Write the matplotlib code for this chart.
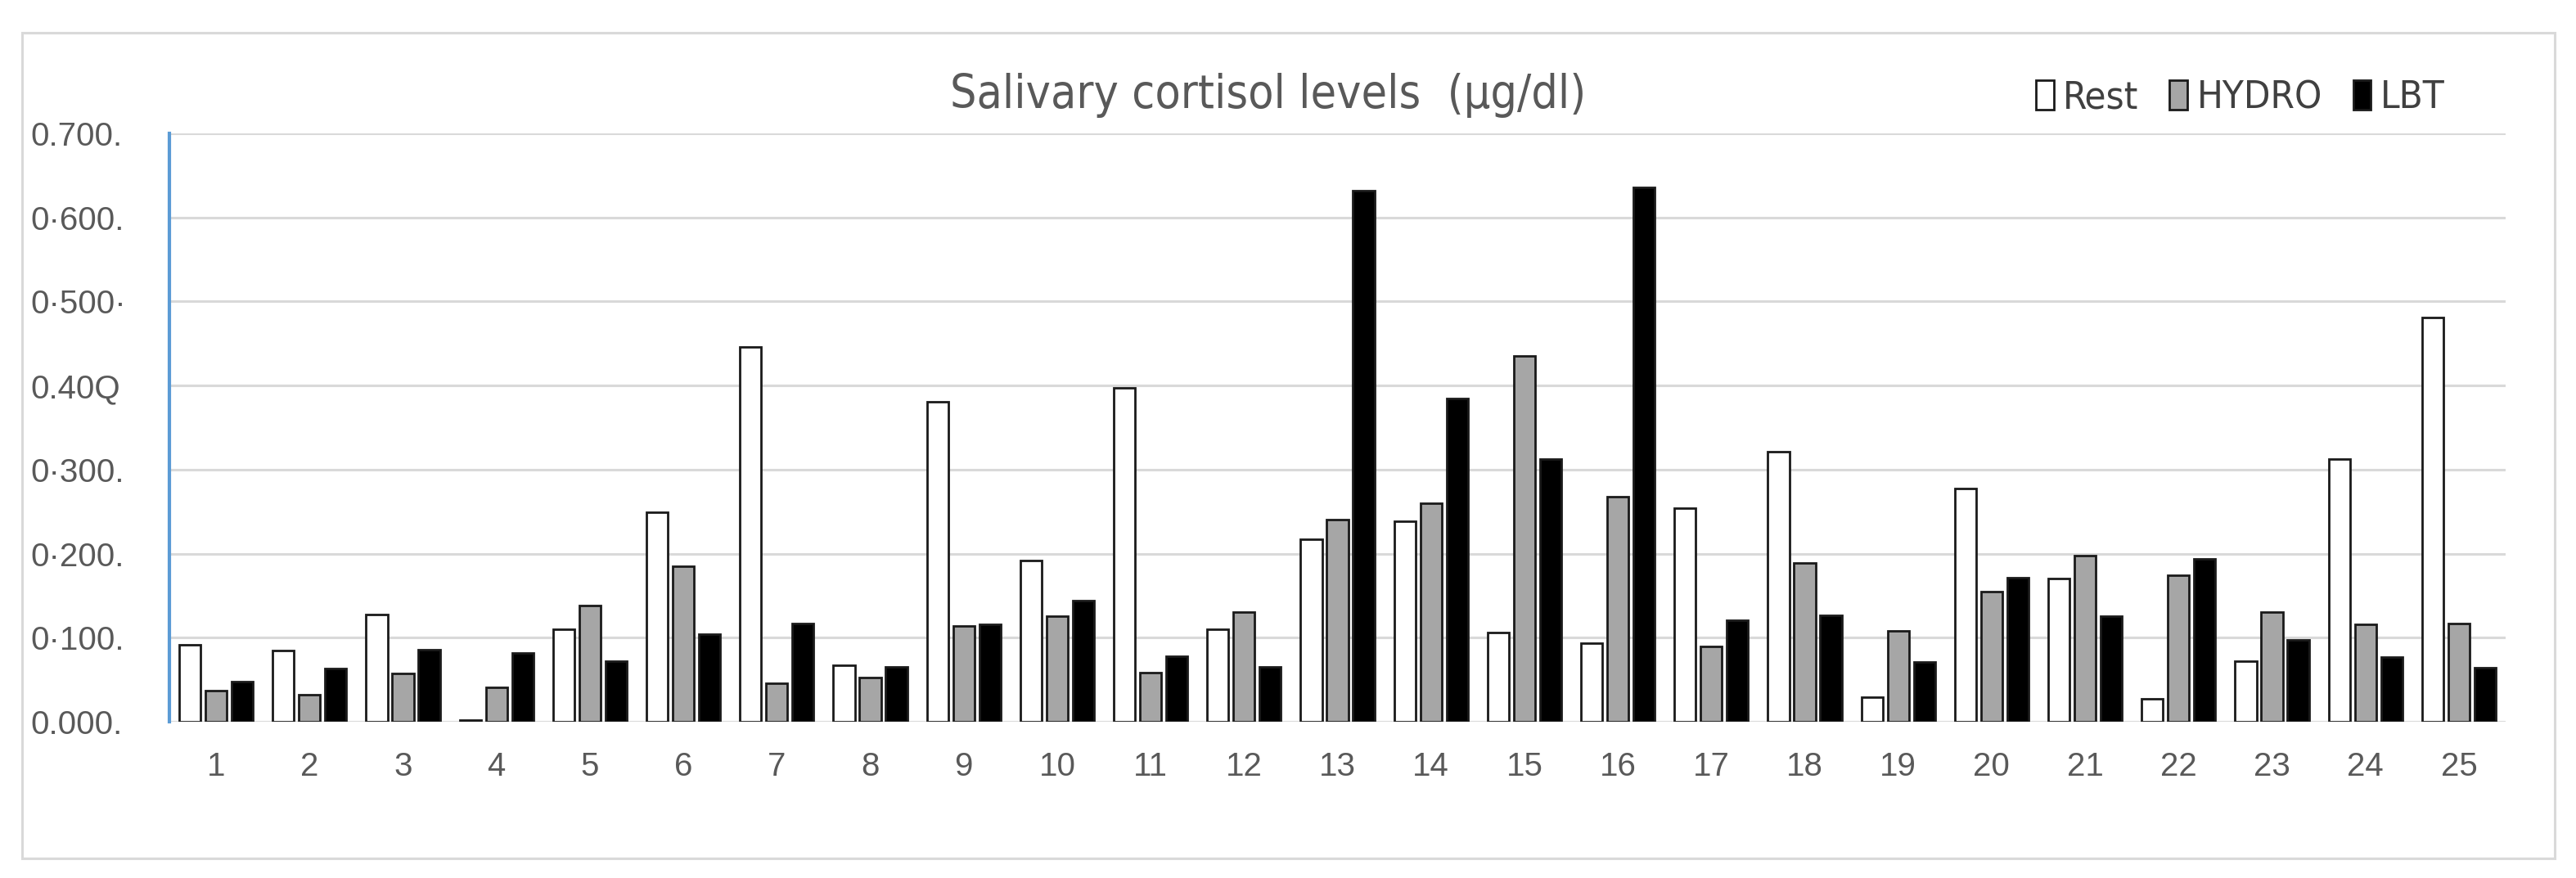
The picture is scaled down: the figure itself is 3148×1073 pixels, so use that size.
import matplotlib.pyplot as plt
import numpy as np
from matplotlib.patches import Rectangle, Patch

# salivary cortisol values (ug/dl)
subjects = [str(i) for i in range(1, 26)]
rest = [0.092, 0.085, 0.128, 0.002, 0.110, 0.249, 0.446, 0.067, 0.381, 0.192,
        0.397, 0.110, 0.217, 0.239, 0.106, 0.093, 0.254, 0.321, 0.029, 0.277,
        0.170, 0.027, 0.072, 0.313, 0.481]
hydro = [0.037, 0.032, 0.057, 0.041, 0.138, 0.185, 0.046, 0.053, 0.114, 0.126,
         0.058, 0.130, 0.240, 0.260, 0.435, 0.268, 0.090, 0.189, 0.108, 0.155,
         0.198, 0.174, 0.130, 0.116, 0.117]
lbt = [0.048, 0.063, 0.086, 0.082, 0.072, 0.104, 0.117, 0.065, 0.116, 0.144,
       0.078, 0.065, 0.632, 0.385, 0.313, 0.636, 0.121, 0.127, 0.071, 0.171,
       0.126, 0.194, 0.097, 0.077, 0.064]
series_names = ["Rest", "HYDRO", "LBT"]
ytick_vals = [0.0, 0.1, 0.2, 0.3, 0.4, 0.5, 0.6, 0.7]
ytick_labels = ["0.000.", "0·100.", "0·200.", "0·300.", "0.40Q", "0·500·", "0·600.", "0.700."]
title = "Salivary cortisol levels  (µg/dl)"

W, H = 3148, 1073
fig = plt.figure(figsize=(W / 100, H / 100), dpi=100)
fig.patch.set_facecolor("white")

# light outer frame like the excel chart area
fig.patches.append(Rectangle((27 / W, 1 - 1049 / H), (3122 - 27) / W, (1049 - 40) / H,
                             transform=fig.transFigure, fill=False,
                             edgecolor="#d9d9d9", linewidth=2.2))

ax = fig.add_axes([207 / W, 1 - 882 / H, (3062 - 207) / W, (882 - 163) / H])

x = np.arange(len(subjects))
off = 0.28
bw = 0.23
fills = ["white", "#a6a6a6", "black"]
for i, vals in enumerate([rest, hydro, lbt]):
    ax.bar(x + (i - 1) * off, vals, width=bw, color=fills[i],
           edgecolor="#1a1a1a", linewidth=2.0, zorder=3, label=series_names[i])

ax.set_xlim(-0.5, len(subjects) - 0.5)
ax.set_ylim(0, 0.7)
ax.set_yticks(ytick_vals)
ax.set_yticklabels(ytick_labels, fontsize=29, color="#595959", family="Liberation Sans")
for t in ax.get_yticklabels():
    t.set_ha("left")
ax.tick_params(axis="y", length=0, pad=122)
ax.set_xticks(x)
ax.set_xticklabels(subjects, fontsize=29, color="#595959", family="Liberation Sans")
ax.tick_params(axis="x", length=0, pad=26)

ax.grid(axis="y", color="#d9d9d9", linewidth=2.2, zorder=0)
for s in ["top", "right", "bottom"]:
    ax.spines[s].set_visible(False)
ax.spines["left"].set_color("#5b9bd5")
ax.spines["left"].set_linewidth(3)
ax.spines["left"].set_zorder(4)

# title is a narrow font in the original
fig.text(1550 / W, 1 - 116 / H, title, ha="center", va="center", fontsize=41,
         color="#595959", family="DejaVu Sans", fontstretch="condensed")

handles = [Patch(facecolor=fills[i], edgecolor="#1a1a1a", linewidth=2.0) for i in range(3)]
fig.legend(handles, series_names, loc="center right", bbox_to_anchor=(3030 / W, 1 - 120 / H),
           ncol=3, frameon=False, handlelength=0.45, handleheight=0.8, handletextpad=0.25,
           columnspacing=0.8,
           prop={"family": "DejaVu Sans", "stretch": "condensed", "size": 34},
           labelcolor="#404040")

fig.savefig("out.png", dpi=100, facecolor="white")
